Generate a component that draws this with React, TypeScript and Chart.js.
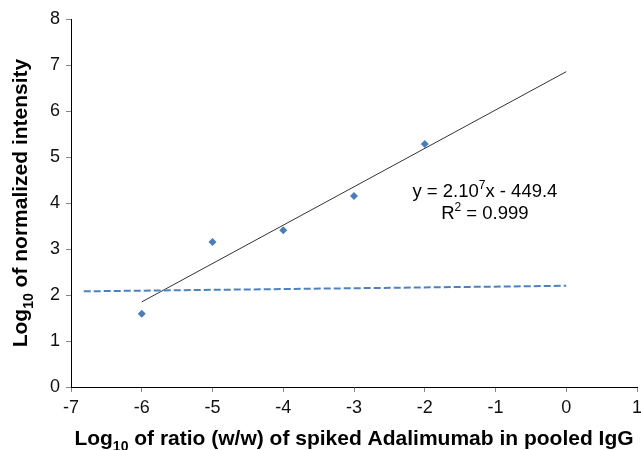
import React, { useEffect, useRef } from "react";
import { Chart, registerables } from "chart.js";

Chart.register(...registerables);

const xValues = [-6, -5, -4, -3, -2];
const yValues = [1.59, 3.15, 3.41, 4.15, 5.28];
const trendX = [-6, 0];
const trendY = [1.85, 6.855];
const baseX = [-6.82, 0];
const baseY = [2.08, 2.2];
const xTicks = [-7, -6, -5, -4, -3, -2, -1, 0, 1];
const yTicks = [0, 1, 2, 3, 4, 5, 6, 7, 8];
const eqAnchor = { x: -1.15, y: 4.13 };

const FONT = '"Liberation Sans", Arial, Helvetica, sans-serif';

type Part = { t: string; s: number; dy: number };

function richWidth(ctx: CanvasRenderingContext2D, parts: Part[], weight: string) {
  let w = 0;
  for (const p of parts) {
    ctx.font = `${weight} ${p.s}px ${FONT}`;
    w += ctx.measureText(p.t).width;
  }
  return w;
}

function drawRich(
  ctx: CanvasRenderingContext2D,
  parts: Part[],
  x: number,
  y: number,
  weight: string
) {
  let cx = x;
  ctx.textBaseline = "alphabetic";
  ctx.textAlign = "left";
  for (const p of parts) {
    ctx.font = `${weight} ${p.s}px ${FONT}`;
    ctx.fillText(p.t, cx, y + p.dy);
    cx += ctx.measureText(p.t).width;
  }
}

const textPlugin = {
  id: "richText",
  afterDraw(chart: any) {
    const ctx: CanvasRenderingContext2D = chart.ctx;
    const area = chart.chartArea;
    const xs = chart.scales.x;
    const ys = chart.scales.y;
    ctx.save();
    ctx.fillStyle = "#000";
    // equation
    const l1: Part[] = [
      { t: "y = 2.10", s: 18.5, dy: 0 },
      { t: "7", s: 12, dy: -8 },
      { t: "x - 449.4", s: 18.5, dy: 0 },
    ];
    const l2: Part[] = [
      { t: "R", s: 18.5, dy: 0 },
      { t: "2", s: 12, dy: -8 },
      { t: " = 0.999", s: 18.5, dy: 0 },
    ];
    const cx = xs.getPixelForValue(eqAnchor.x);
    const cy = ys.getPixelForValue(eqAnchor.y);
    const w1 = richWidth(ctx, l1, "normal");
    const w2 = richWidth(ctx, l2, "normal");
    drawRich(ctx, l1, cx - w1 / 2, cy, "normal");
    drawRich(ctx, l2, cx - w2 / 2, cy + 22, "normal");

    // x title
    const xt: Part[] = [
      { t: "Log", s: 21, dy: 0 },
      { t: "10", s: 14, dy: 6 },
      { t: " of ratio (w/w) of spiked Adalimumab in pooled IgG", s: 21, dy: 0 },
    ];
    const wx = richWidth(ctx, xt, "bold");
    drawRich(ctx, xt, (area.left + area.right) / 2 - wx / 2, 445, "bold");

    // y title
    const yt: Part[] = [
      { t: "Log", s: 21, dy: 0 },
      { t: "10", s: 14, dy: 6 },
      { t: " of normalized intensity", s: 21, dy: 0 },
    ];
    const wy = richWidth(ctx, yt, "bold");
    ctx.translate(27, (area.top + area.bottom) / 2);
    ctx.rotate(-Math.PI / 2);
    drawRich(ctx, yt, -wy / 2, 0, "bold");
    ctx.restore();
  },
};

export default function App() {
  const ref = useRef<HTMLCanvasElement | null>(null);
  useEffect(() => {
    document.body.style.margin = "0";
    if (!ref.current) return;
    const chart = new Chart(ref.current, {
      type: "scatter",
      data: {
        datasets: [
          {
            type: "line",
            data: baseX.map((x, i) => ({ x, y: baseY[i] })),
            borderColor: "#4F81BD",
            borderWidth: 2,
            borderDash: [7, 3],
            pointRadius: 0,
            fill: false,
          } as any,
          {
            type: "line",
            data: trendX.map((x, i) => ({ x, y: trendY[i] })),
            borderColor: "#333333",
            borderWidth: 1,
            pointRadius: 0,
            fill: false,
          } as any,
          {
            type: "scatter",
            data: xValues.map((x, i) => ({ x, y: yValues[i] })),
            pointStyle: "rectRot",
            pointRadius: 4,
            backgroundColor: "#4A7EBB",
            borderColor: "#4A7EBB",
            borderWidth: 0,
          },
        ],
      },
      options: {
        animation: false,
        responsive: true,
        maintainAspectRatio: false,
        layout: { padding: { top: 19, right: 3, left: 0, bottom: 0 } },
        plugins: { legend: { display: false }, tooltip: { enabled: false } },
        scales: {
          x: {
            type: "linear",
            min: -7,
            max: 1,
            afterBuildTicks: (s: any) => {
              s.ticks = xTicks.map((v) => ({ value: v }));
            },
            afterFit: (s: any) => {
              s.height = 63;
              s.paddingLeft = 0;
              s.paddingRight = 0;
            },
            ticks: {
              color: "#111",
              font: { family: FONT, size: 18 },
              padding: 5,
              maxRotation: 0,
              autoSkip: false,
            },
            grid: {
              display: true,
              drawOnChartArea: false,
              drawTicks: true,
              tickLength: 5,
              color: "#888",
            },
            border: { display: true, color: "#000", width: 1 },
          },
          y: {
            type: "linear",
            min: 0,
            max: 8,
            afterBuildTicks: (s: any) => {
              s.ticks = yTicks.map((v) => ({ value: v }));
            },
            afterFit: (s: any) => {
              s.width = 71;
              s.paddingTop = 0;
              s.paddingBottom = 0;
            },
            ticks: {
              color: "#111",
              font: { family: FONT, size: 18 },
              padding: 6,
              autoSkip: false,
            },
            grid: {
              display: true,
              drawOnChartArea: false,
              drawTicks: true,
              tickLength: 5,
              color: "#888",
            },
            border: { display: true, color: "#000", width: 1 },
          },
        },
      },
      plugins: [textPlugin],
    });
    return () => chart.destroy();
  }, []);
  return (
    <div style={{ position: "absolute", left: 0, top: 0, width: 641, height: 450 }}>
      <canvas ref={ref} />
    </div>
  );
}
